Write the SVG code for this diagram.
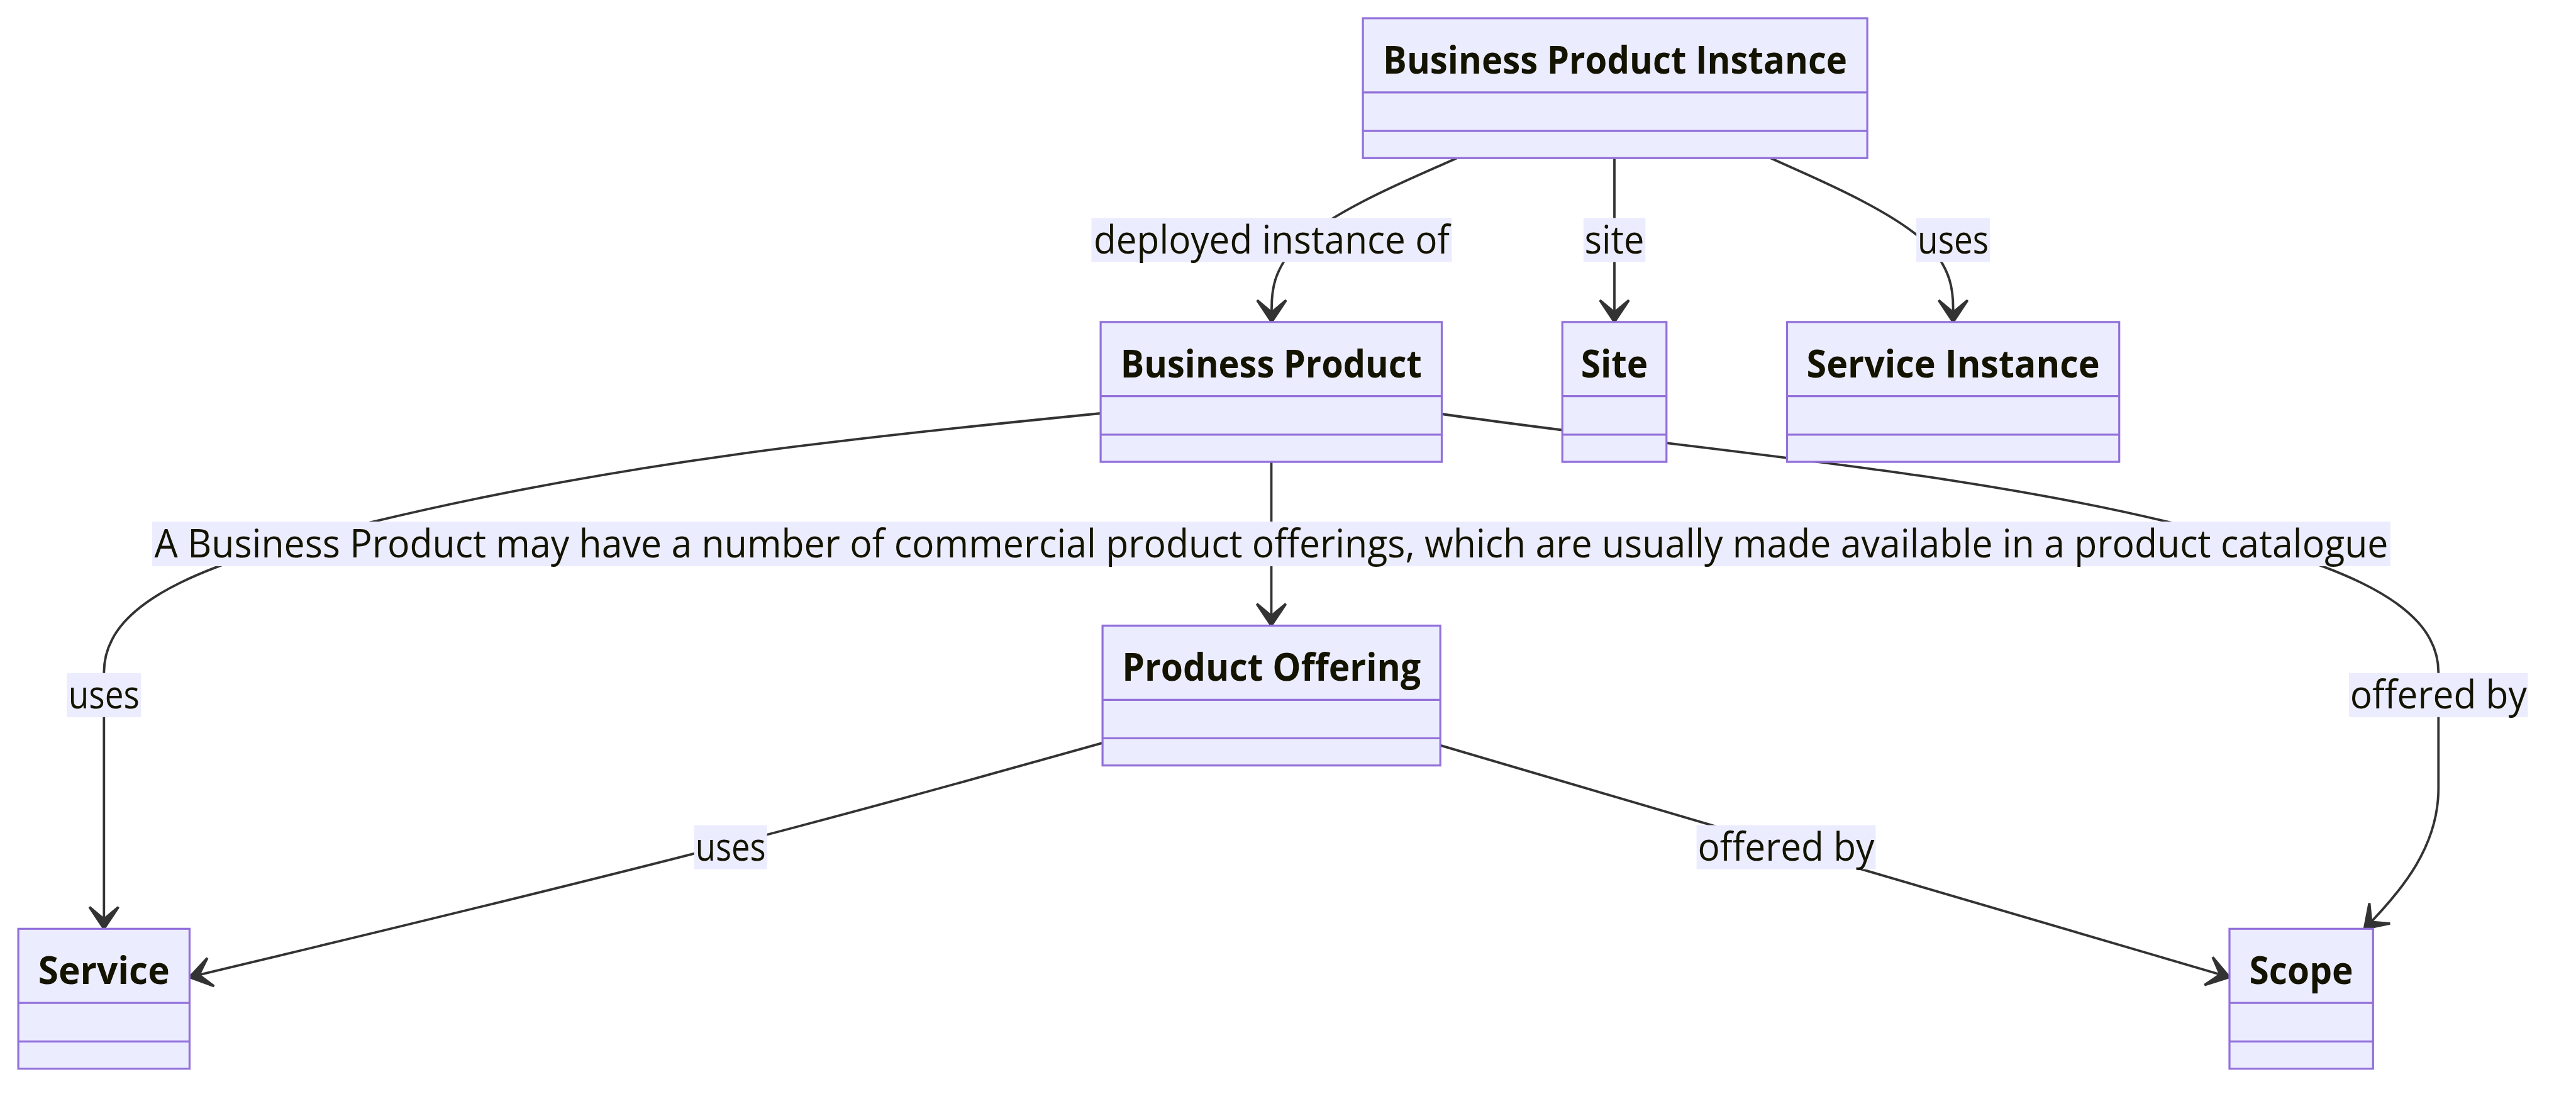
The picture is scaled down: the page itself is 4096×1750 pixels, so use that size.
<svg xmlns="http://www.w3.org/2000/svg" width="4096" height="1750" viewBox="0 0 4096 1750">
<style>
.box{fill:#ECECFF;stroke:#9370DB;stroke-width:3.2}
.div{stroke:#9370DB;stroke-width:3.2}
.title{font-family:"Open Sans","Liberation Sans",sans-serif;font-size:61.5px;font-weight:700;fill:#131300;text-anchor:middle}
.edge{fill:none;stroke:#333333;stroke-width:3.8;marker-end:url(#dep)}
.lbg{fill:#ECECFF}
.ltxt{font-family:"Open Sans","Liberation Sans",sans-serif;font-size:61.5px;fill:#131300;text-anchor:middle}
</style>
<defs>
<marker id="dep" viewBox="0 0 20 14" refX="18" refY="7" markerWidth="76.8" markerHeight="53.76" markerUnits="userSpaceOnUse" orient="auto" overflow="visible">
<path d="M18,7 L9,13 L14,7 L9,1 Z" fill="#333333" stroke="#333333" stroke-width="1"/>
</marker>
</defs>
<rect x="0" y="0" width="4096" height="1750" fill="#FFFFFF"/>
<g id="edges">
<path id="e-deployed" class="edge" d="M2316.6,251.3 L2267.5,273 C2218.4,294.7 2120.2,338.1 2071.1,381.5 C2022,424.9 2022,468.4 2022,490.1 L2022,511.8"/>
<path id="e-site" class="edge" d="M2567,251.3 L2567,511.8"/>
<path id="e-uses-si" class="edge" d="M2815.4,251.3 L2863.8,273 C2912.1,294.7 3008.9,338.1 3057.2,381.5 C3105.6,424.9 3105.6,468.4 3105.6,490.1 L3105.6,511.8"/>
<path id="e-offerings" class="edge" d="M2021.5,734 L2021.5,994.4"/>
<path id="e-uses-service" class="edge" d="M1750,657 C1350,697 993.8,733.2 593.8,829.2 C343.8,889.2 165.3,949 165.3,1069 L165.3,1476.3"/>
<path id="e-offered-scope" class="edge" d="M2292.5,658 C2690,715 3095,745 3445.8,829.2 C3695.8,889.2 3877.3,949 3877.3,1069 L3877.3,1253 C3877.3,1343 3822.6,1412.4 3759.6,1476.3"/>
<path id="e-po-uses" class="edge" d="M1753,1180.8 L1654.5,1208.4 C1555.9,1236 1358.8,1291.3 1116.9,1353.3 C874.9,1415.4 588.2,1484.3 444.8,1518.8 L301.4,1553.2"/>
<path id="e-po-offered" class="edge" d="M2290,1184.6 L2381.7,1211.6 C2473.3,1238.6 2656.7,1292.5 2865.8,1354 C3075,1415.4 3310,1484.3 3427.5,1518.8 L3545,1553.2"/>
</g>
<g id="edge-labels">
<g id="l-deployed"><rect class="lbg" x="1735.5" y="346.5" width="573" height="70"/><text class="ltxt" x="2022" y="403" textLength="566" lengthAdjust="spacingAndGlyphs">deployed instance of</text></g>
<g id="l-site"><rect class="lbg" x="2517.8" y="346.5" width="98.5" height="70"/><text class="ltxt" x="2567" y="403" textLength="95" lengthAdjust="spacingAndGlyphs">site</text></g>
<g id="l-uses-si"><rect class="lbg" x="3047.1" y="346.5" width="117" height="70"/><text class="ltxt" x="3105.6" y="403" textLength="113" lengthAdjust="spacingAndGlyphs">uses</text></g>
<g id="l-offerings"><rect class="lbg" x="242" y="829" width="3559" height="71"/><text class="ltxt" x="2021.5" y="885.5" textLength="3552" lengthAdjust="spacingAndGlyphs">A Business Product may have a number of commercial product offerings, which are usually made available in a product catalogue</text></g>
<g id="l-uses-service"><rect class="lbg" x="106.3" y="1069.8" width="118" height="70"/><text class="ltxt" x="165.3" y="1126.3" textLength="113" lengthAdjust="spacingAndGlyphs">uses</text></g>
<g id="l-offered-scope"><rect class="lbg" x="3735" y="1069.8" width="284.5" height="70"/><text class="ltxt" x="3877.3" y="1126.3" textLength="281" lengthAdjust="spacingAndGlyphs">offered by</text></g>
<g id="l-po-uses"><rect class="lbg" x="1103.7" y="1311.5" width="116" height="70"/><text class="ltxt" x="1161.7" y="1368" textLength="112" lengthAdjust="spacingAndGlyphs">uses</text></g>
<g id="l-po-offered"><rect class="lbg" x="2697.6" y="1311.5" width="284.8" height="70"/><text class="ltxt" x="2840" y="1368" textLength="281" lengthAdjust="spacingAndGlyphs">offered by</text></g>
</g>
<g id="node-BusinessProductInstance">
<rect class="box" x="2167.1" y="29" width="802" height="222.3"/>
<line class="div" x1="2167.1" y1="146.9" x2="2969.1" y2="146.9"/>
<line class="div" x1="2167.1" y1="208.1" x2="2969.1" y2="208.1"/>
<text class="title" x="2568.1" y="116.8" textLength="738" lengthAdjust="spacingAndGlyphs">Business Product Instance</text>
</g>
<g id="node-BusinessProduct">
<rect class="box" x="1750.1" y="511.8" width="542.4" height="222.3"/>
<line class="div" x1="1750.1" y1="629.7" x2="2292.5" y2="629.7"/>
<line class="div" x1="1750.1" y1="690.9" x2="2292.5" y2="690.9"/>
<text class="title" x="2021.3" y="599.6" textLength="479" lengthAdjust="spacingAndGlyphs">Business Product</text>
</g>
<g id="node-Site">
<rect class="box" x="2484.2" y="511.8" width="165.6" height="222.3"/>
<line class="div" x1="2484.2" y1="629.7" x2="2649.8" y2="629.7"/>
<line class="div" x1="2484.2" y1="690.9" x2="2649.8" y2="690.9"/>
<text class="title" x="2567" y="599.6" textLength="106.5" lengthAdjust="spacingAndGlyphs">Site</text>
</g>
<g id="node-ServiceInstance">
<rect class="box" x="2841.5" y="511.8" width="528.2" height="222.3"/>
<line class="div" x1="2841.5" y1="629.7" x2="3369.7" y2="629.7"/>
<line class="div" x1="2841.5" y1="690.9" x2="3369.7" y2="690.9"/>
<text class="title" x="3105.6" y="599.6" textLength="466" lengthAdjust="spacingAndGlyphs">Service Instance</text>
</g>
<g id="node-ProductOffering">
<rect class="box" x="1753.1" y="994.4" width="537.1" height="222.3"/>
<line class="div" x1="1753.1" y1="1112.3" x2="2290.2" y2="1112.3"/>
<line class="div" x1="1753.1" y1="1173.5" x2="2290.2" y2="1173.5"/>
<text class="title" x="2021.7" y="1082.2" textLength="475" lengthAdjust="spacingAndGlyphs">Product Offering</text>
</g>
<g id="node-Service">
<rect class="box" x="29.1" y="1476.3" width="272.3" height="222.3"/>
<line class="div" x1="29.1" y1="1594.2" x2="301.4" y2="1594.2"/>
<line class="div" x1="29.1" y1="1655.4" x2="301.4" y2="1655.4"/>
<text class="title" x="165.2" y="1564.1" textLength="209" lengthAdjust="spacingAndGlyphs">Service</text>
</g>
<g id="node-Scope">
<rect class="box" x="3545" y="1476.3" width="228.3" height="222.3"/>
<line class="div" x1="3545" y1="1594.2" x2="3773.3" y2="1594.2"/>
<line class="div" x1="3545" y1="1655.4" x2="3773.3" y2="1655.4"/>
<text class="title" x="3659.1" y="1564.1" textLength="165" lengthAdjust="spacingAndGlyphs">Scope</text>
</g>
</svg>
